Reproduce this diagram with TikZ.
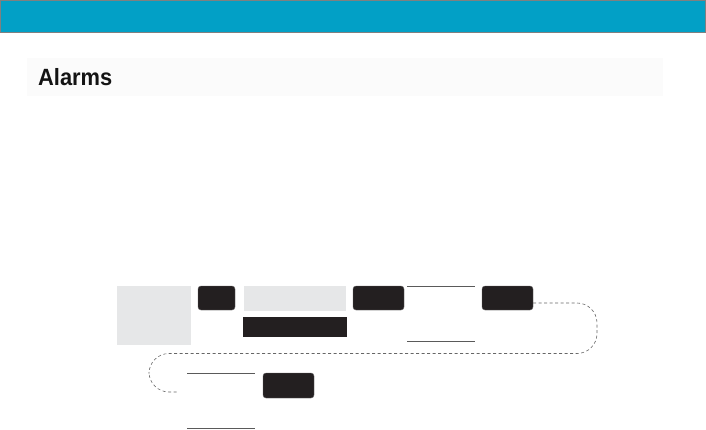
\documentclass[tikz,border=0pt]{standalone}
\usepackage{fontspec}
\setmainfont{Liberation Sans}
\definecolor{headblue}{RGB}{2,160,198}
\definecolor{boxgray}{RGB}{230,231,232}
\definecolor{keyblack}{RGB}{35,31,32}
\definecolor{bandgray}{RGB}{251,251,251}
\definecolor{rulegray}{RGB}{90,90,90}
\begin{document}
\begin{tikzpicture}[x=1pt,y=-1pt,
  key/.style={fill=keyblack,draw=keyblack!70,rounded corners=3pt,line width=0.4pt},
  grayfield/.style={fill=boxgray,draw=none},
  blackfield/.style={fill=keyblack,draw=none},
  rule/.style={draw=rulegray,line width=0.8pt},
  loop/.style={draw=gray!80!black,dashed,dash pattern=on 3pt off 2.5pt,line width=0.6pt}]
\useasboundingbox (0,0) rectangle (706,429);
% header
\path[fill=headblue,draw=gray,line width=0.8pt] (0.4,0.4) rectangle (705.6,32);
% title band
\path[fill=bandgray] (27,58) rectangle (663,96);
\node[anchor=base west,inner sep=0pt,text=black!92,font=\bfseries\fontsize{23.5}{24}\selectfont] (title) at (38,85) {\scalebox{0.93}[1]{Alarms}};
% first row
\path[grayfield] (117,286) rectangle (191,345);
\coordinate (g1) at (154,315.5);
\path[key] (198,286) rectangle (235,310);
\coordinate (k1) at (216.5,298);
\path[grayfield] (244,286) rectangle (346,311);
\coordinate (g2) at (295,298.5);
\path[blackfield] (243,317) rectangle (347,337);
\coordinate (b1) at (295,327);
\path[key] (353,286) rectangle (404,310);
\coordinate (k2) at (378.5,298);
\draw[rule] (407,286) coordinate (l1a) -- (475,286) coordinate (l1b);
\draw[rule] (407,341) coordinate (l2a) -- (475,341) coordinate (l2b);
\path[key] (482,286) rectangle (533,310);
\coordinate (k3e) at (533,303);
% second row
\draw[rule] (187,373) coordinate (l3a) -- (255,373) coordinate (l3b);
\draw[rule] (187,428) coordinate (l4a) -- (255,428) coordinate (l4b);
\path[key] (263,373) rectangle (314,398);
\coordinate (k4) at (288.5,385.5);
% dashed connector
\coordinate (loopend) at (178,392);
\draw[loop,rounded corners=20pt] (k3e) -- (597,303) -- (597,353.5) -- (149,353.5) -- (149,392) -- (loopend);
\end{tikzpicture}
\end{document}
